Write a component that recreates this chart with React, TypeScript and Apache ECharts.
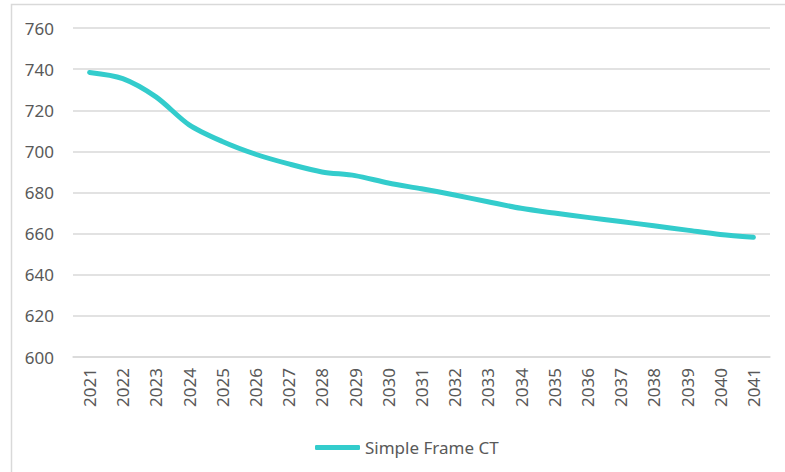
import React, { useEffect, useRef } from "react";
import * as echarts from "echarts";

const years = [
  "2021", "2022", "2023", "2024", "2025", "2026", "2027", "2028", "2029", "2030", "2031",
  "2032", "2033", "2034", "2035", "2036", "2037", "2038", "2039", "2040", "2041",
];
const simpleFrameCT = [
  738.4, 735.4, 726.5, 712.9, 704.8, 698.6, 693.9, 690.0, 688.2, 684.6, 681.8,
  678.8, 675.5, 672.3, 670.0, 667.9, 665.9, 663.8, 661.7, 659.6, 658.2,
];
const seriesName = "Simple Frame CT";

const FONT = "'Noto Sans', sans-serif";
const TEXT = "#595959";
const GRID = "#d9d9d9";
const LINE = "#33CCCC";

export default function App() {
  const ref = useRef<HTMLDivElement>(null);
  useEffect(() => {
    if (!ref.current) return;
    const chart = echarts.init(ref.current, undefined, { renderer: "svg" });
    chart.setOption({
      animation: false,
      backgroundColor: "#ffffff",
      graphic: [
        {
          type: "rect",
          shape: { x: 11.5, y: 4.5, width: 820, height: 520 },
          style: { fill: "none", stroke: GRID, lineWidth: 1.5 },
          silent: true,
          z: -1,
        },
      ],
      grid: { left: 73, right: 15, top: 28, bottom: 115, containLabel: false },
      legend: {
        left: 315,
        top: 439,
        padding: 0,
        itemWidth: 45,
        itemHeight: 5,
        itemGap: 10,
        textStyle: { color: TEXT, fontFamily: FONT, fontSize: 17 },
        data: [{ name: seriesName, icon: "roundRect", itemStyle: { color: LINE } }],
      },
      xAxis: {
        type: "category",
        data: years,
        boundaryGap: true,
        axisLine: { show: true, lineStyle: { color: GRID, width: 1.5 } },
        axisTick: { show: false },
        axisLabel: {
          rotate: 90,
          margin: 11,
          color: TEXT,
          fontFamily: FONT,
          fontSize: 17,
          interval: 0,
        },
      },
      yAxis: {
        type: "value",
        min: 600,
        max: 760,
        interval: 20,
        axisLine: { show: false },
        axisTick: { show: false },
        splitLine: { lineStyle: { color: GRID, width: 1.5 } },
        axisLabel: { margin: 19, color: TEXT, fontFamily: FONT, fontSize: 17 },
      },
      series: [
        {
          name: seriesName,
          type: "line",
          data: simpleFrameCT,
          smooth: 0.3,
          symbol: "none",
          lineStyle: { color: LINE, width: 5, cap: "round", join: "round" },
          itemStyle: { color: LINE },
        },
      ],
    });
    return () => chart.dispose();
  }, []);
  return (
    <div
      ref={ref}
      style={{ position: "absolute", left: 0, top: 0, width: 785, height: 472 }}
    />
  );
}
